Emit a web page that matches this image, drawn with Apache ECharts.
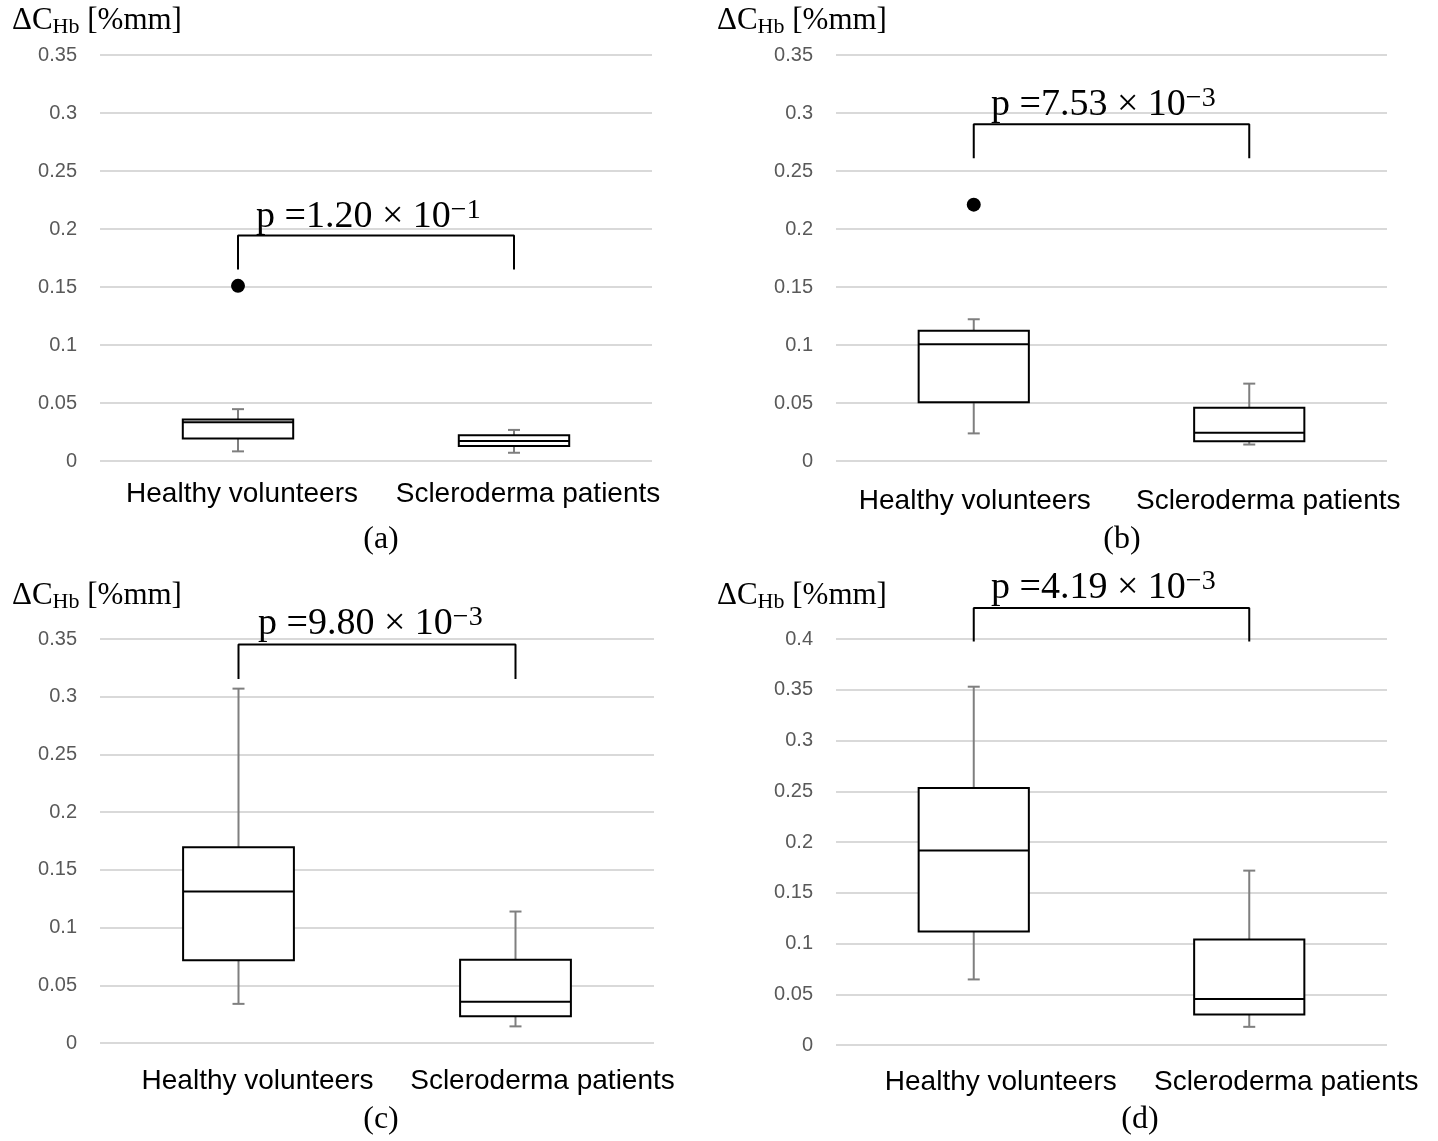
<!DOCTYPE html>
<html>
<head>
<meta charset="utf-8">
<script src="https://cdn.jsdelivr.net/npm/echarts@6/dist/echarts.min.js"></script>
<style>
html, body { margin: 0; padding: 0; background: #fff; }
#main { width: 1438px; height: 1141px; }
</style>
</head>
<body>
<div id="main"></div>
<script>
// categories shared by all four panels
var categories = ['Healthy volunteers', 'Scleroderma patients'];

// box stats per group: [low whisker, Q1, median, Q3, high whisker]
var statsA = [[0.0083, 0.0194, 0.0333, 0.0357, 0.0447], [0.0071, 0.0129, 0.0173, 0.0222, 0.0268]];
var statsB = [[0.0238, 0.0506, 0.1006, 0.1123, 0.1222], [0.0142, 0.0170, 0.0244, 0.0460, 0.0667]];
var statsC = [[0.0339, 0.0716, 0.1312, 0.1695, 0.3070], [0.0144, 0.0232, 0.0358, 0.0722, 0.1139]];
var statsD = [[0.0646, 0.1119, 0.1916, 0.2533, 0.3530], [0.0179, 0.0301, 0.0452, 0.1040, 0.1718]];

// outliers [category index, value]
var outliersA = [[0, 0.151]];
var outliersB = [[0, 0.221]];
var outliersC = [];
var outliersD = [];

// significance bracket: [bar height, foot height]
var bracketA = [0.1944, 0.165];
var bracketB = [0.2904, 0.261];
var bracketC = [0.3453, 0.3154];
var bracketD = [0.4305, 0.3975];

// p-value mantissa / exponent
var pMantissa = ['1.20', '7.53', '9.80', '4.19'];
var pExponent = ['1', '3', '3', '3'];
var panelTags = ['(a)', '(b)', '(c)', '(d)'];

// y axis ranges
var yMax = [0.35, 0.35, 0.35, 0.4];
var yStep = 0.05;

var dom = document.getElementById('main');
var myChart = echarts.init(dom, null, { renderer: 'canvas' });

var grids = [
    { left: 100, width: 552, top: 55, height: 406 },
    { left: 836, width: 551, top: 55, height: 406 },
    { left: 100, width: 554, top: 639, height: 404 },
    { left: 836, width: 551, top: 639, height: 406 }
];
var labelMargin = [19, 26, 24, 23];
// label offset to the right of each category centre: [healthy, scleroderma]
var labelShift = [[4, 14], [1, 19], [19, 27], [27, 37]];

function renderBox(params, api) {
    var x = api.value(0);
    var low = api.coord([x, api.value(1)]);
    var q1 = api.coord([x, api.value(2)]);
    var med = api.coord([x, api.value(3)]);
    var q3 = api.coord([x, api.value(4)]);
    var high = api.coord([x, api.value(5)]);
    var half = api.size([1, 0])[0] * 0.2;
    var cap = 6;
    var cx = low[0];
    var gray = { stroke: '#7f7f7f', lineWidth: 2 };
    var black = { stroke: '#000', lineWidth: 2 };
    return {
        type: 'group',
        children: [
            { type: 'line', shape: { x1: cx, y1: low[1], x2: cx, y2: q1[1] }, style: gray },
            { type: 'line', shape: { x1: cx, y1: q3[1], x2: cx, y2: high[1] }, style: gray },
            { type: 'line', shape: { x1: cx - cap, y1: low[1], x2: cx + cap, y2: low[1] }, style: gray },
            { type: 'line', shape: { x1: cx - cap, y1: high[1], x2: cx + cap, y2: high[1] }, style: gray },
            { type: 'rect', shape: { x: cx - half, y: q3[1], width: half * 2, height: q1[1] - q3[1] },
              style: { fill: '#fff', stroke: '#000', lineWidth: 2 } },
            { type: 'line', shape: { x1: cx - half, y1: med[1], x2: cx + half, y2: med[1] }, style: black }
        ]
    };
}

var allStats = [statsA, statsB, statsC, statsD];
var allOutliers = [outliersA, outliersB, outliersC, outliersD];
var allBrackets = [bracketA, bracketB, bracketC, bracketD];

var catFont = { color: '#000', fontSize: 28, fontFamily: 'Liberation Sans, Arial, sans-serif' };

var xAxes = [], yAxes = [], series = [];
for (var i = 0; i < 4; i++) {
    xAxes.push({
        type: 'category',
        gridIndex: i,
        data: categories,
        axisLine: { show: false },
        axisTick: { show: false },
        axisLabel: {
            interval: 0,
            hideOverlap: false,
            margin: labelMargin[i],
            color: '#000',
            fontSize: 28,
            fontFamily: 'Liberation Sans, Arial, sans-serif',
            formatter: function (v, idx) { return '{c' + idx + '|' + v + '}'; },
            rich: {
                c0: Object.assign({ padding: [0, 0, 0, labelShift[i][0] * 2] }, catFont),
                c1: Object.assign({ padding: [0, 0, 0, labelShift[i][1] * 2] }, catFont)
            }
        }
    });
    yAxes.push({
        type: 'value',
        gridIndex: i,
        min: 0,
        max: yMax[i],
        interval: yStep,
        axisLine: { show: false },
        axisTick: { show: false },
        axisLabel: {
            margin: 23,
            color: '#595959',
            fontSize: 20,
            fontFamily: 'Liberation Sans, Arial, sans-serif'
        },
        splitLine: { lineStyle: { color: '#d9d9d9', width: 2 } }
    });
    series.push({
        type: 'custom',
        xAxisIndex: i,
        yAxisIndex: i,
        renderItem: renderBox,
        encode: { x: 0, y: [1, 2, 3, 4, 5] },
        data: allStats[i].map(function (s, k) { return [k].concat(s); }),
        z: 2
    });
    series.push({
        type: 'scatter',
        xAxisIndex: i,
        yAxisIndex: i,
        symbolSize: 14,
        itemStyle: { color: '#000', opacity: 1 },
        data: allOutliers[i],
        z: 3
    });
    var b = allBrackets[i];
    series.push({
        type: 'line',
        xAxisIndex: i,
        yAxisIndex: i,
        clip: false,
        symbol: 'none',
        lineStyle: { color: '#000', width: 2 },
        data: [[0, b[1]], [0, b[0]], [1, b[0]], [1, b[1]]],
        z: 4
    });
}

var titlePos = [[12, 21], [717, 21], [12, 596], [717, 596]];
var pPos = [[256, 217], [991, 105], [258, 624], [991, 588]];
var tagPos = [[381, 540], [1122, 540], [381, 1120], [1140, 1120]];

var graphics = [];
for (var j = 0; j < 4; j++) {
    graphics.push({
        type: 'text',
        x: titlePos[j][0],
        y: titlePos[j][1],
        style: {
            text: '{a|ΔC}{s|Hb}{a| [%mm]}',
            verticalAlign: 'middle',
            rich: {
                a: { fontFamily: 'Liberation Serif, serif', fontSize: 31, color: '#000', lineHeight: 34 },
                s: { fontFamily: 'Liberation Serif, serif', fontSize: 22, color: '#000', verticalAlign: 'bottom', lineHeight: 8 }
            }
        }
    });
    graphics.push({
        type: 'text',
        x: pPos[j][0],
        y: pPos[j][1],
        z: 10,
        style: {
            text: '{a|p =' + pMantissa[j] + ' × 10}{s|−' + pExponent[j] + '}',
            verticalAlign: 'middle',
            rich: {
                a: { fontFamily: 'Liberation Serif, serif', fontSize: 38, color: '#000', lineHeight: 40 },
                s: { fontFamily: 'Liberation Serif, serif', fontSize: 28, color: '#000', verticalAlign: 'top', lineHeight: 24 }
            }
        }
    });
    graphics.push({
        type: 'text',
        x: tagPos[j][0],
        y: tagPos[j][1],
        style: {
            text: panelTags[j],
            align: 'center',
            verticalAlign: 'middle',
            fontFamily: 'Liberation Serif, serif',
            fontSize: 32,
            fill: '#000'
        }
    });
}

var option = {
    backgroundColor: '#fff',
    animation: false,
    grid: grids,
    xAxis: xAxes,
    yAxis: yAxes,
    series: series,
    graphic: graphics
};
myChart.setOption(option);
window.addEventListener('resize', function () {
    myChart.resize();
});
</script>
</body>
</html>
